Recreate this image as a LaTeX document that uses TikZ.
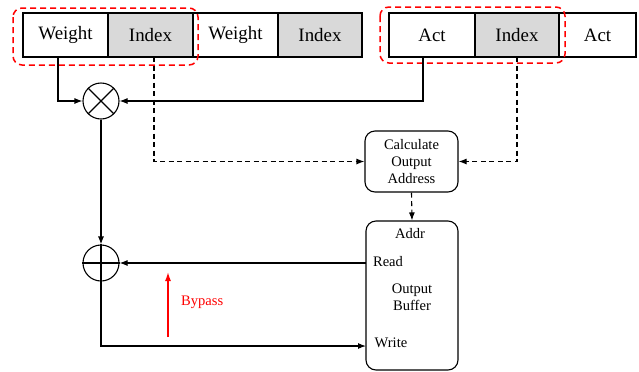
\documentclass[tikz,border=0pt]{standalone}
\usepackage{fontspec}
\setmainfont{Liberation Serif}
\usetikzlibrary{arrows.meta}
\begin{document}
\begin{tikzpicture}[x=1bp,y=-1bp,
  cell/.style={draw,line width=1.3bp,minimum height=44bp,inner sep=0pt,font=\fontsize{19}{21}\selectfont},
  graycell/.style={cell,fill=gray!30},
  arr/.style={line width=1.1bp,-{Latex[length=8bp,width=6bp]}},
  dsh/.style={arr,dash pattern=on 5bp off 3.5bp},
  grp/.style={draw=red,line width=1.5bp,dash pattern=on 6bp off 4bp,rounded corners=9bp},
  op/.style={draw,circle,line width=1.1bp,minimum size=36bp,inner sep=0pt},
  small/.style={font=\fontsize{14.6}{17.5}\selectfont,align=center,inner sep=0pt},
  rbox/.style={draw,line width=1.1bp,rounded corners=10bp,inner sep=0pt}]
\useasboundingbox (0,0) rectangle (639,371);
% top row
\node[cell,minimum width=85bp] (w1) at (65.5,35) {Weight};
\node[graycell,minimum width=85bp] (i1) at (150.5,35) {Index};
\node[cell,minimum width=85bp] (w2) at (235.5,35) {Weight};
\node[graycell,minimum width=84bp] (i2) at (320,35) {Index};
\node[cell,minimum width=86bp] (a1) at (432,35) {Act};
\node[graycell,minimum width=84bp] (i3) at (517,35) {Index};
\node[cell,minimum width=77bp] (a2) at (597.5,35) {Act};
% red groups
\draw[grp] (13,8) rectangle (198,65);
\draw[grp] (380,7) rectangle (565,63);
% operators
\node[op] (m) at (101,101) {};
\draw[line width=1.1bp] (m.north west) -- (m.south east) (m.north east) -- (m.south west);
\node[op] (ad) at (101,263) {};
\draw[line width=1.1bp] (ad.north) -- (ad.south) (ad.west) -- (ad.east);
% boxes
\node[rbox,minimum width=93bp,minimum height=61bp,small] (calc) at (411.5,161.5) {Calculate\\Output\\Address};
\node[rbox,minimum width=92bp,minimum height=149bp] (buf) at (412,295.5) {};
\node[small] (addr) at (410,234) {Addr};
\node[small] (read) at (388,262) {Read};
\node[small] (ob) at (412,297) {Output\\Buffer};
\node[small] (write) at (391,343) {Write};
% connector coordinates
\coordinate (wl) at (58,57);
\coordinate (il) at (154,57);
\coordinate (al) at (423,57);
\coordinate (ir) at (517,57);
\coordinate (rd) at (366,263);
\coordinate (wr) at (366,346);
\coordinate (bp1) at (168,337);
\coordinate (bp2) at (168,272);
% connectors
\draw[arr] (wl) |- (m.west);
\draw[arr] (al) |- (m.east);
\draw[dsh] (il) |- (calc.west);
\draw[dsh] (ir) |- (calc.east);
\draw[dsh] (calc.south) -- (buf.north);
\draw[arr] (m.south) -- (ad.north);
\draw[arr] (rd) -- (ad.east);
\draw[arr] (ad.south) |- (wr);
\draw[line width=1.5bp,red,-{Latex[length=9bp,width=6bp]}] (bp1) -- (bp2);
\node[small,text=red,anchor=west] (bp) at (181,302) {Bypass};
\end{tikzpicture}
\end{document}
